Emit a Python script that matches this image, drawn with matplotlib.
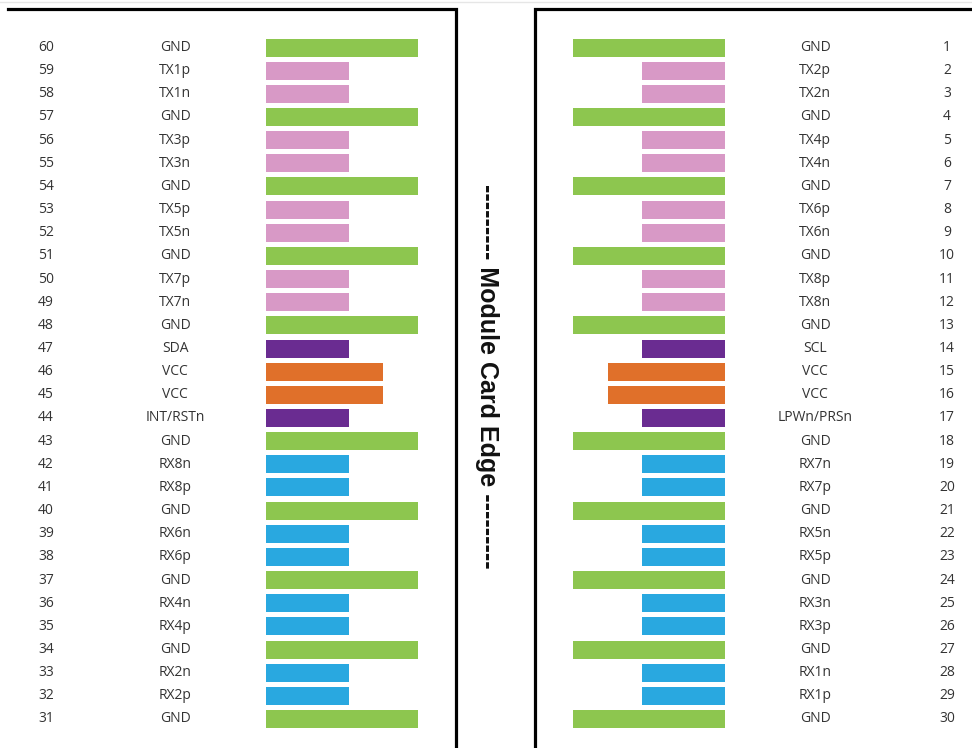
import matplotlib
matplotlib.use("Agg")
import matplotlib.pyplot as plt

# pin data: left column (60 -> 31), right column (1 -> 30)
left_pins = list(range(60, 30, -1))
left_names = ["GND", "TX1p", "TX1n", "GND", "TX3p", "TX3n", "GND", "TX5p", "TX5n", "GND",
              "TX7p", "TX7n", "GND", "SDA", "VCC", "VCC", "INT/RSTn", "GND", "RX8n", "RX8p",
              "GND", "RX6n", "RX6p", "GND", "RX4n", "RX4p", "GND", "RX2n", "RX2p", "GND"]
right_pins = list(range(1, 31))
right_names = ["GND", "TX2p", "TX2n", "GND", "TX4p", "TX4n", "GND", "TX6p", "TX6n", "GND",
               "TX8p", "TX8n", "GND", "SCL", "VCC", "VCC", "LPWn/PRSn", "GND", "RX7n", "RX7p",
               "GND", "RX5n", "RX5p", "GND", "RX3n", "RX3p", "GND", "RX1n", "RX1p", "GND"]

colors = {"GND": "#8dc64f", "TX": "#d899c6", "RX": "#29a8e0", "VCC": "#e0702a", "CTL": "#6a2c91"}
lengths = {"GND": 152, "TX": 83, "RX": 83, "VCC": 117, "CTL": 83}

def kind(name):
    if name == "GND":
        return "GND"
    if name == "VCC":
        return "VCC"
    if name.startswith("TX"):
        return "TX"
    if name.startswith("RX"):
        return "RX"
    return "CTL"

plt.rcParams['font.family'] = ['Open Sans', 'DejaVu Sans']

fig = plt.figure(figsize=(9.72, 7.48), dpi=100)
ax = fig.add_axes([0, 0, 1, 1])
ax.set_xlim(0, 972)
ax.set_ylim(748, 0)
ax.axis("off")

y0 = 47.5
pitch = 23.155
rows = [y0 + i * pitch for i in range(30)]
txtc = "#333333"
fs = 10

# left side
lk = [kind(n) for n in left_names]
ax.barh(rows, [lengths[k] for k in lk], left=266, height=18,
        color=[colors[k] for k in lk])
for y, p, n in zip(rows, left_pins, left_names):
    ax.text(46, y, str(p), ha="center", va="center", fontsize=fs, color=txtc)
    ax.text(175, y, n, ha="center", va="center", fontsize=fs, color=txtc)

# right side
rk = [kind(n) for n in right_names]
rl = [lengths[k] for k in rk]
ax.barh(rows, rl, left=[725 - w for w in rl], height=18,
        color=[colors[k] for k in rk])
for y, p, n in zip(rows, right_pins, right_names):
    ax.text(815, y, n, ha="center", va="center", fontsize=fs, color=txtc)
    ax.text(947, y, str(p), ha="center", va="center", fontsize=fs, color=txtc)

# frame lines
ax.plot([0, 972], [2, 2], color="#e6e6e6", lw=1)
ax.plot([8, 456, 456], [9, 9, 748], color="black", lw=2.3, solid_joinstyle="miter")
ax.plot([535, 535, 972], [748, 9, 9], color="black", lw=2.3, solid_joinstyle="miter")

ax.text(487, 376, "--------- Module Card Edge ---------", rotation=-90, ha="center", va="center",
        fontsize=18, fontweight="bold", color="#111111", family=["Liberation Sans", "DejaVu Sans"])

fig.savefig("out.png", dpi=100)
